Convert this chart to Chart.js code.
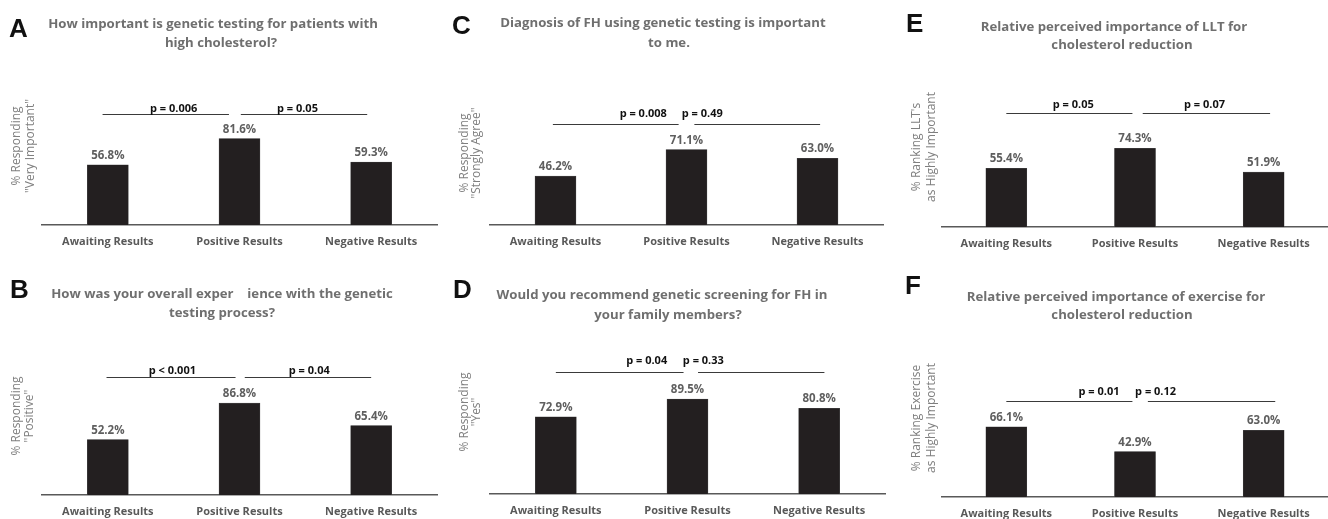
<!DOCTYPE html>
<html>
<head>
<meta charset="utf-8">
<script src="https://cdn.jsdelivr.net/npm/chart.js@4.4.1/dist/chart.umd.min.js"></script>
<style>
  html, body { margin: 0; padding: 0; background: #fff; overflow: hidden; width: 1328px; height: 519px; }
  .panel { position: absolute; }
</style>
</head>
<body>
<div class="panel" style="left:0;top:0"><canvas id="chartA" width="440" height="280"></canvas></div>
<div class="panel" style="left:0;top:260px"><canvas id="chartB" width="440" height="280"></canvas></div>
<div class="panel" style="left:440px;top:0"><canvas id="chartC" width="450" height="280"></canvas></div>
<div class="panel" style="left:440px;top:260px"><canvas id="chartD" width="450" height="280"></canvas></div>
<div class="panel" style="left:890px;top:0"><canvas id="chartE" width="438" height="280"></canvas></div>
<div class="panel" style="left:890px;top:260px"><canvas id="chartF" width="438" height="280"></canvas></div>
<script>
// data
var categories = ['Awaiting Results', 'Positive Results', 'Negative Results'];

var valuesA = [56.8, 81.6, 59.3];
var valuesB = [52.2, 86.8, 65.4];
var valuesC = [46.2, 71.1, 63.0];
var valuesD = [72.9, 89.5, 80.8];
var valuesE = [55.4, 74.3, 51.9];
var valuesF = [66.1, 42.9, 63.0];

var pValuesA = ['p = 0.006', 'p = 0.05'];
var pValuesB = ['p < 0.001', 'p = 0.04'];
var pValuesC = ['p = 0.008', 'p = 0.49'];
var pValuesD = ['p = 0.04', 'p = 0.33'];
var pValuesE = ['p = 0.05', 'p = 0.07'];
var pValuesF = ['p = 0.01', 'p = 0.12'];

var titleA = ['How important is genetic testing for patients with', 'high cholesterol?'];
var titleB = ['How was your overall exper    ience with the genetic', 'testing process?'];
var titleC = ['Diagnosis of FH using genetic testing is important', 'to me.'];
var titleD = ['Would you recommend genetic screening for FH in', 'your family members?'];
var titleE = ['Relative perceived importance of LLT for', 'cholesterol reduction'];
var titleF = ['Relative perceived importance of exercise for', 'cholesterol reduction'];

var yTitleA = ['% Responding', '"Very Important"'];
var yTitleB = ['% Responding', '"Positive"'];
var yTitleC = ['% Responding', '"Strongly Agree"'];
var yTitleD = ['% Responding', '"Yes"'];
var yTitleE = ["% Ranking LLT's", 'as Highly Important'];
var yTitleF = ['% Ranking Exercise', 'as Highly Important'];

var AXIS_H = 30; // fixed height of the category axis band

// layout of each panel (pixels local to its canvas, bracket spans in category units)
var panels = [
  { id: 'chartA', letter: 'A', values: valuesA, pValues: pValuesA, title: titleA, yTitle: yTitleA,
    left: 42, right: 3, axisY: 225, letterPos: [9, 37],
    titleX: [213, 221], titleY: [24, 43], yTitleX: [17, 31], yTitleY: 146,
    level: 104.5, spans: [[-0.04, 0.92], [1.01, 1.97]], textAt: [0.50, 1.44], textOff: 3 },
  { id: 'chartB', letter: 'B', values: valuesB, pValues: pValuesB, title: titleB, yTitle: yTitleB,
    left: 42, right: 3, axisY: 235, letterPos: [10, 38],
    titleX: [222, 222], titleY: [34, 53], yTitleX: [17, 30], yTitleY: 156,
    level: 111, spans: [[-0.01, 0.97], [1.04, 2.0]], textAt: [0.49, 1.53], textOff: 4 },
  { id: 'chartC', letter: 'C', values: valuesC, pValues: pValuesC, title: titleC, yTitle: yTitleC,
    left: 50, right: 7, axisY: 225, letterPos: [12, 34],
    titleX: [223, 229], titleY: [23, 43], yTitleX: [25, 37], yTitleY: 153,
    level: 95.5, spans: [[-0.02, 0.94], [1.06, 2.02]], textAt: [0.67, 1.12], textOff: 8 },
  { id: 'chartD', letter: 'D', values: valuesD, pValues: pValuesD, title: titleD, yTitle: yTitleD,
    left: 50, right: 5, axisY: 234, letterPos: [13, 38],
    titleX: [222, 228], titleY: [35, 55], yTitleX: [25, 37], yTitleY: 152,
    level: 115, spans: [[0.0, 0.97], [1.08, 2.04]], textAt: [0.69, 1.12], textOff: 9 },
  { id: 'chartE', letter: 'E', values: valuesE, pValues: pValuesE, title: titleE, yTitle: yTitleE,
    left: 52, right: 0, axisY: 227, letterPos: [16, 32],
    titleX: [224, 232], titleY: [27, 45], yTitleX: [27, 42], yTitleY: 147,
    level: 108, spans: [[0.0, 0.98], [1.06, 2.05]], textAt: [0.52, 1.54], textOff: 6 },
  { id: 'chartF', letter: 'F', values: valuesF, pValues: pValuesF, title: titleF, yTitle: yTitleF,
    left: 52, right: 0, axisY: 237, letterPos: [15, 34],
    titleX: [226, 232], titleY: [37, 55], yTitleX: [27, 42], yTitleY: 158,
    level: 90.5, spans: [[0.0, 0.98], [1.1, 2.09]], textAt: [0.72, 1.16], textOff: 7 }
];

var GREY = '#595959';
var FONT = '"Open Sans", sans-serif';

// letters, titles, value labels and p-value brackets
var annotate = {
  id: 'annotate',
  afterDraw: function (chart) {
    var p = chart.options.plugins.annotate.panel;
    var ctx = chart.ctx;
    var x = chart.scales.x, y = chart.scales.y;
    ctx.save();

    ctx.fillStyle = '#111';
    ctx.font = 'bold 26px "Liberation Sans", Arial, sans-serif';
    ctx.textAlign = 'left';
    ctx.textBaseline = 'alphabetic';
    ctx.fillText(p.letter, p.letterPos[0], p.letterPos[1]);

    ctx.fillStyle = '#6f6f6f';
    ctx.font = 'bold 13.2px ' + FONT;
    ctx.textAlign = 'center';
    ctx.textBaseline = 'middle';
    p.title.forEach(function (line, i) {
      ctx.fillText(line, p.titleX[i], p.titleY[i]);
    });

    ctx.fillStyle = '#7f7f7f';
    ctx.font = '12px ' + FONT;
    p.yTitle.forEach(function (line, i) {
      ctx.save();
      ctx.translate(p.yTitleX[i], p.yTitleY);
      ctx.rotate(-Math.PI / 2);
      ctx.fillText(line, 0, 0);
      ctx.restore();
    });

    ctx.fillStyle = '#5f5f5f';
    ctx.font = 'bold 11.5px ' + FONT;
    ctx.textBaseline = 'alphabetic';
    chart.getDatasetMeta(0).data.forEach(function (bar, i) {
      ctx.fillText(p.values[i].toFixed(1) + '%', bar.x, bar.y - 6);
    });

    var ly = Math.round(y.getPixelForValue(p.level)) + 0.5;
    ctx.strokeStyle = '#3a3a3a';
    ctx.lineWidth = 1;
    ctx.fillStyle = '#111';
    ctx.font = 'bold 11px ' + FONT;
    p.spans.forEach(function (s, i) {
      ctx.beginPath();
      ctx.moveTo(x.getPixelForValue(s[0]), ly);
      ctx.lineTo(x.getPixelForValue(s[1]), ly);
      ctx.stroke();
      ctx.fillText(p.pValues[i], x.getPixelForValue(p.textAt[i]), ly - p.textOff);
    });
    ctx.restore();
  }
};

panels.forEach(function (p) {
  var canvas = document.getElementById(p.id);
  new Chart(canvas, {
    type: 'bar',
    data: {
      labels: categories,
      datasets: [{
        data: p.values,
        backgroundColor: '#231f20',
        borderColor: '#4a4a4a',
        borderWidth: 0.5,
        barThickness: 41
      }]
    },
    options: {
      responsive: false,
      animation: false,
      layout: {
        padding: {
          left: p.left,
          right: p.right,
          top: p.axisY - 106,
          bottom: canvas.height - p.axisY - AXIS_H
        }
      },
      scales: {
        x: {
          afterFit: function (scale) { scale.height = AXIS_H; },
          grid: { display: false, drawTicks: false, tickLength: 0 },
          border: { display: true, color: GREY, width: 1.5 },
          ticks: { color: GREY, padding: 10, font: { family: 'Open Sans', size: 11, weight: 'bold' } }
        },
        y: { display: false, min: 0, max: 100 }
      },
      plugins: {
        legend: { display: false },
        tooltip: { enabled: false },
        annotate: { panel: p }
      }
    },
    plugins: [annotate]
  });
});
</script>
</body>
</html>
